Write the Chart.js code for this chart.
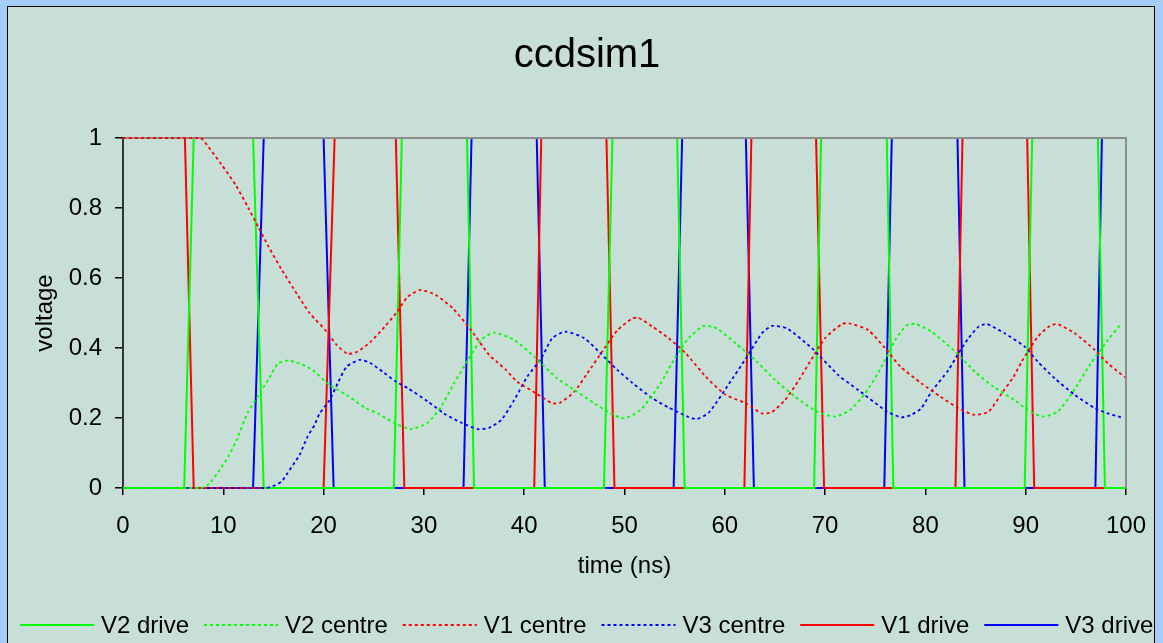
<!DOCTYPE html>
<html><head><meta charset="utf-8">
<script src="https://cdn.jsdelivr.net/npm/chart.js@4/dist/chart.umd.min.js"></script>
<style>
html,body{margin:0;padding:0;width:1163px;height:643px;overflow:hidden;background:#a6cefc;}
#panel{position:absolute;left:7px;top:6px;width:1146px;height:720px;background:#c8dfd7;border:1px solid #000;}
#wrap{position:absolute;left:0;top:0;width:1163px;height:643px;}
</style></head><body>
<div id="panel"></div>
<div id="wrap"><canvas id="c" width="1163" height="643"></canvas></div>
<script>
// ---- data (time ns, voltage) ----
const chartTitle = 'ccdsim1';
const xTicks = [0,10,20,30,40,50,60,70,80,90,100];
const yTicks = [0,0.2,0.4,0.6,0.8,1];
const seriesNames = ['V2 drive','V2 centre','V1 centre','V3 centre','V1 drive','V3 drive'];

const v2Drive = [[0,0],[6.1,0],[7.05,1],[12.97,1],[14.03,0],[27.0,0],[27.8,1],[34.3,1],[35.0,0],[47.95,0],[48.8,1],[55.25,1],[56.0,0],[68.9,0],[69.6,1],[76.15,1],[76.8,0],[89.9,0],[90.65,1],[97.2,1],[97.9,0],[100,0]];
const v1Drive = [[0,1],[6.17,1],[7.05,0],[20.0,0],[21.1,1],[27.2,1],[28.05,0],[41.0,0],[41.7,1],[48.2,1],[49.0,0],[61.95,0],[62.65,1],[69.1,1],[69.9,0],[83.0,0],[83.7,1],[90.15,1],[90.85,0],[100,0]];
const v3Drive = [[0,0],[12.97,0],[14.03,1],[20.0,1],[21.0,0],[33.95,0],[34.75,1],[41.25,1],[42.05,0],[54.9,0],[55.75,1],[62.1,1],[62.9,0],[75.9,0],[76.65,1],[83.2,1],[83.9,0],[96.95,0],[97.6,1],[100,1]];

const v1Centre = [[0,1],[7.7,1],[8.5,0.975],[9.8,0.925],[11.25,0.865],[12.5,0.8],[13.5,0.745],[14.5,0.69],[15.8,0.625],[17.4,0.552],[18.6,0.5],[20.3,0.447],[21.3,0.409],[22.4,0.383],[23.4,0.39],[24.7,0.418],[26.1,0.461],[27.2,0.499],[28.4,0.547],[29.7,0.566],[31.2,0.551],[32.9,0.513],[34.7,0.451],[36.5,0.38],[37.3,0.36],[38.2,0.337],[39.3,0.304],[41.2,0.27],[42.8,0.242],[43.6,0.244],[45.0,0.275],[46.3,0.328],[48.0,0.399],[49.3,0.451],[50.8,0.485],[51.4,0.486],[52.8,0.461],[54.4,0.428],[56.1,0.385],[58.1,0.318],[60.1,0.266],[62.1,0.242],[63.7,0.213],[64.7,0.217],[66.0,0.251],[67.4,0.309],[68.5,0.361],[70.0,0.428],[71.7,0.469],[72.5,0.47],[74.3,0.451],[76.0,0.399],[77.5,0.347],[79.6,0.299],[81.5,0.261],[83.3,0.228],[84.9,0.209],[86.3,0.218],[87.6,0.27],[88.8,0.318],[89.6,0.361],[91.2,0.432],[92.4,0.463],[93.2,0.468],[94.9,0.442],[96.9,0.394],[98.2,0.356],[99.9,0.316]];
const v2Centre = [[0,0],[7.8,0],[8.6,0.012],[9.6,0.05],[10.5,0.09],[11.3,0.135],[12.4,0.213],[13.8,0.278],[14.5,0.31],[15.45,0.356],[16.3,0.364],[17.6,0.356],[18.9,0.337],[20.6,0.294],[22.3,0.266],[24.2,0.228],[25.4,0.213],[27.1,0.185],[28.7,0.168],[30.4,0.187],[31.7,0.232],[33.0,0.299],[34.4,0.366],[35.7,0.423],[37.0,0.444],[39.0,0.423],[41.0,0.375],[43.3,0.313],[45.0,0.28],[47.0,0.242],[48.6,0.213],[49.95,0.199],[51.6,0.223],[53.6,0.299],[55.1,0.375],[56.4,0.428],[57.9,0.463],[59.2,0.456],[61.1,0.413],[63.2,0.361],[65.0,0.309],[67.0,0.261],[69.2,0.218],[71.0,0.204],[72.5,0.223],[74.0,0.27],[75.7,0.35],[77.0,0.423],[78.1,0.464],[79.0,0.469],[80.6,0.447],[82.8,0.394],[85.1,0.328],[86.8,0.289],[88.9,0.251],[90.2,0.223],[91.7,0.204],[93.2,0.218],[94.6,0.27],[96.5,0.356],[98.2,0.423],[99.4,0.465]];
const v3Centre = [[0,0],[14.2,0],[14.9,0.005],[15.8,0.018],[16.4,0.042],[16.95,0.066],[17.6,0.094],[18.4,0.147],[19.1,0.18],[19.6,0.213],[20.6,0.251],[21.4,0.299],[22.3,0.347],[23.6,0.366],[24.6,0.358],[25.9,0.332],[27.2,0.304],[28.4,0.285],[30.4,0.247],[32.0,0.213],[33.7,0.187],[35.4,0.168],[36.5,0.172],[37.7,0.194],[39.0,0.251],[40.3,0.318],[41.7,0.37],[42.8,0.428],[44.1,0.447],[46.0,0.428],[47.6,0.385],[49.3,0.337],[50.8,0.3],[52.8,0.256],[54.4,0.23],[56.3,0.204],[57.2,0.197],[58.4,0.215],[60.4,0.297],[62.1,0.37],[63.7,0.442],[64.7,0.463],[66.2,0.456],[68.7,0.399],[71.3,0.323],[73.3,0.28],[76.2,0.218],[77.6,0.202],[78.6,0.209],[79.6,0.228],[80.6,0.275],[82.3,0.337],[83.3,0.385],[84.3,0.428],[85.3,0.461],[86.1,0.469],[87.9,0.442],[89.9,0.404],[91.2,0.361],[92.9,0.313],[94.9,0.266],[96.9,0.228],[98.2,0.213],[99.5,0.202]];

const RED='#ff0000', GREEN='#00ff00', BLUE='#0000ff';
const FONT='"Liberation Sans", Arial, sans-serif';
const FS = 24;
const pts = a => a.map(p => ({x:p[0], y:p[1]}));
const drive = (label, data, color) => ({label, data: pts(data), borderColor: color, backgroundColor: color, borderWidth: 2, pointRadius: 0, tension: 0, clip: 3, fill: false, order: 1, isDrive: true});
const centre = (label, data, color) => ({label, data: pts(data), borderColor: color, backgroundColor: color, borderWidth: 1.8, borderDash: [3,3], pointRadius: 0, tension: 0.2, clip: 3, fill: false, order: 0});

let frameDone = false;
function drawFrame(c){const {ctx, chartArea:a}=c; ctx.save(); ctx.setLineDash([]); ctx.strokeStyle='#8c8c8c'; ctx.lineWidth=2; ctx.beginPath(); ctx.moveTo(a.left, a.top); ctx.lineTo(a.right, a.top); ctx.lineTo(a.right, a.bottom); ctx.stroke(); ctx.restore();}
const frame = {id:'frame',
  beforeDatasetsDraw(){ frameDone = false; },
  beforeDatasetDraw(c, args){ if (!frameDone && !c.data.datasets[args.index].isDrive){ drawFrame(c); frameDone = true; } },
  afterDatasetsDraw(c){ if (!frameDone){ drawFrame(c); frameDone = true; } }
};
// title text and custom legend (line samples with dash patterns)
const extras = {id:'extras', afterDraw(c){
  const ctx = c.ctx; ctx.save();
  ctx.fillStyle = '#000'; ctx.textBaseline = 'middle'; ctx.textAlign = 'center';
  ctx.font = '40px ' + FONT; ctx.fillText(chartTitle, 587, 56);
  ctx.textAlign = 'left';
  ctx.font = FS + 'px ' + FONT;
  let x = 20; const y = 625;
  c.data.datasets.forEach(ds => {
    ctx.strokeStyle = ds.borderColor; ctx.lineWidth = 2; ctx.setLineDash(ds.borderDash || []);
    ctx.beginPath(); ctx.moveTo(x, y); ctx.lineTo(x + 74, y); ctx.stroke();
    ctx.setLineDash([]);
    x += 81; ctx.fillText(ds.label, x, y + 1);
    x += ctx.measureText(ds.label).width + 15;
  });
  ctx.restore();
}};

new Chart(document.getElementById('c'), {
  type: 'line',
  data: { datasets: [
    drive(seriesNames[0], v2Drive, GREEN),
    centre(seriesNames[1], v2Centre, GREEN),
    centre(seriesNames[2], v1Centre, RED),
    centre(seriesNames[3], v3Centre, BLUE),
    drive(seriesNames[4], v1Drive, RED),
    drive(seriesNames[5], v3Drive, BLUE)
  ]},
  options: {
    responsive: false, animation: false, devicePixelRatio: 1,
    layout: { padding: { left: 5, right: 35, top: 0, bottom: 40.5 } },
    plugins: {
      title: { display: true, text: chartTitle, color: 'rgba(0,0,0,0)', font: { family: FONT, size: 40, weight: 'normal' }, padding: { top: 34, bottom: 56 } },
      legend: { display: false },
      tooltip: { enabled: false }
    },
    scales: {
      x: { type: 'linear', min: 0, max: 100,
        afterBuildTicks: s => { s.ticks = xTicks.map(v => ({value: v})); },
        afterFit: s => { s.height = 114.5; },
        ticks: { color: '#000', font: { family: FONT, size: FS }, padding: 17, maxRotation: 0, callback: v => String(v) },
        grid: { display: true, drawOnChartArea: false, drawTicks: true, tickLength: 7, color: '#000', lineWidth: 1.5 },
        border: { display: true, color: '#000', width: 2 },
        title: { display: true, text: 'time (ns)', color: '#000', font: { family: FONT, size: FS }, padding: { top: 0, bottom: 22 } } },
      y: { type: 'linear', min: 0, max: 1,
        afterBuildTicks: s => { s.ticks = yTicks.map(v => ({value: v})); },
        afterFit: s => { s.width = 118; },
        ticks: { color: '#000', font: { family: FONT, size: FS }, padding: 13, callback: v => String(v) },
        grid: { display: true, drawOnChartArea: false, drawTicks: true, tickLength: 8, color: '#000', lineWidth: 1.5 },
        border: { display: true, color: '#333', width: 2 },
        title: { display: true, text: 'voltage', color: '#000', font: { family: FONT, size: FS }, padding: { top: 25.6, bottom: 0 } } }
    }
  },
  plugins: [frame, extras]
});
</script>
</body></html>
